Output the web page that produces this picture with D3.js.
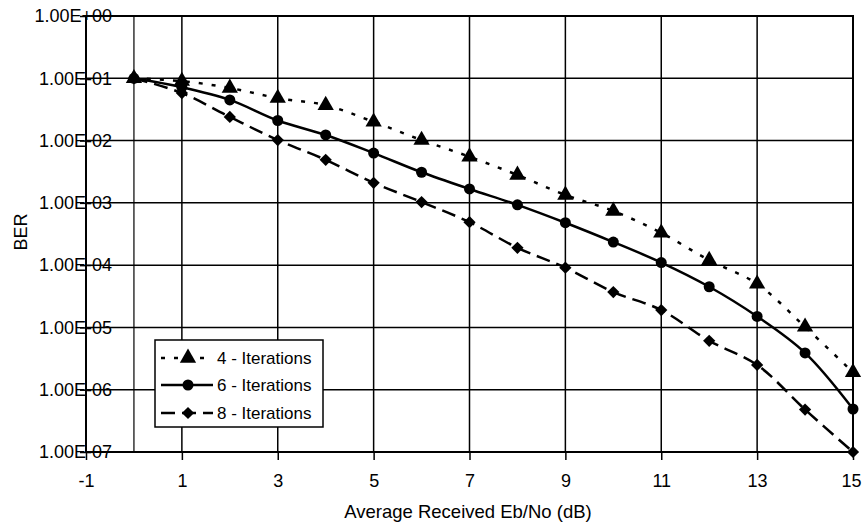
<!DOCTYPE html>
<html>
<head>
<meta charset="utf-8">
<script src="https://cdn.jsdelivr.net/npm/d3@7"></script>
<style>
  body { margin: 0; background: #fff; }
  svg { font-family: "Liberation Sans", Arial, sans-serif; }
</style>
</head>
<body>
<svg id="chart" width="862" height="526"></svg>
<script>
// x values (dB)
var ebno = [0, 1, 2, 3, 4, 5, 6, 7, 8, 9, 10, 11, 12, 13, 14, 15];

// BER per iteration count
var ber4 = [0.1, 0.09, 0.07, 0.048, 0.037, 0.02, 0.0102, 0.0055, 0.0028, 0.00134,
            7.4e-4, 3.3e-4, 1.2e-4, 5e-5, 1.02e-5, 1.9e-6];
var ber6 = [0.1, 0.072, 0.045, 0.021, 0.0123, 0.0063, 0.0031, 0.00167, 9.3e-4, 4.8e-4,
            2.35e-4, 1.1e-4, 4.5e-5, 1.5e-5, 3.9e-6, 4.9e-7];
var ber8 = [0.1, 0.058, 0.024, 0.0102, 0.0049, 0.0021, 0.00103, 4.9e-4, 1.9e-4, 9.1e-5,
            3.7e-5, 1.9e-5, 6.1e-6, 2.5e-6, 4.8e-7, 1e-7];

var seriesNames = ['4 - Iterations', '6 - Iterations', '8 - Iterations'];

var xTicks = [-1, 1, 3, 5, 7, 9, 11, 13, 15];
var xGrid = [0, 1, 3, 5, 7, 9, 11, 13];
var yTicks = [1, 1e-1, 1e-2, 1e-3, 1e-4, 1e-5, 1e-6, 1e-7];
var yTickLabels = ['1.00E+00', '1.00E-01', '1.00E-02', '1.00E-03',
                   '1.00E-04', '1.00E-05', '1.00E-06', '1.00E-07'];

var svg = d3.select('#chart');
var plotLeft = 86, plotRight = 853, plotTop = 16, plotBottom = 452;

var xScale = d3.scaleLinear().domain([-1, 15]).range([plotLeft, plotRight]);
var yScale = d3.scaleLog().domain([1e-7, 1]).range([plotBottom, plotTop]);

// gridlines
svg.append('g')
  .selectAll('line')
  .data(yTicks)
  .enter()
  .append('line')
  .attr('x1', plotLeft).attr('x2', plotRight)
  .attr('y1', function(d){ return yScale(d); })
  .attr('y2', function(d){ return yScale(d); })
  .attr('stroke', '#000')
  .attr('stroke-width', 1.5);

svg.append('g')
  .selectAll('line')
  .data(xGrid)
  .enter()
  .append('line')
  .attr('x1', function(d){ return xScale(d); })
  .attr('x2', function(d){ return xScale(d); })
  .attr('y1', plotTop).attr('y2', plotBottom)
  .attr('stroke', '#000')
  .attr('stroke-width', function(d){ return d === 0 ? 1.2 : 1.5; });

// frame
svg.append('rect')
  .attr('x', plotLeft).attr('y', plotTop)
  .attr('width', plotRight - plotLeft).attr('height', plotBottom - plotTop)
  .attr('fill', 'none')
  .attr('stroke', '#000')
  .attr('stroke-width', 2);

// x axis
var xAxis = d3.axisBottom(xScale)
  .tickValues(xTicks)
  .tickSize(8)
  .tickPadding(14)
  .tickFormat(function(d){ return d; });

var gx = svg.append('g')
  .attr('transform', 'translate(0,' + plotBottom + ')')
  .call(xAxis);
gx.select('.domain').remove();
gx.selectAll('line').attr('stroke', '#000').attr('stroke-width', 1.5);
gx.selectAll('text')
  .attr('font-size', 18)
  .attr('font-family', '"Liberation Sans", Arial, sans-serif')
  .attr('fill', '#000')
  .attr('dx', function(d){ return d === 15 ? -2 : 0; });

// y axis (labels overlap the axis line, as in the scan)
var yAxis = d3.axisLeft(yScale)
  .tickValues(yTicks)
  .tickSize(6)
  .tickPadding(-32)
  .tickFormat(function(d, i){ return yTickLabels[i]; });

var gy = svg.append('g')
  .attr('transform', 'translate(' + plotLeft + ',0)')
  .call(yAxis);
gy.select('.domain').remove();
gy.selectAll('line').attr('stroke', '#000').attr('stroke-width', 1.5);
gy.selectAll('text')
  .attr('font-size', 18)
  .attr('font-family', '"Liberation Sans", Arial, sans-serif')
  .attr('fill', '#000');

// axis titles
svg.append('text')
  .attr('x', 468).attr('y', 518)
  .attr('text-anchor', 'middle')
  .attr('font-size', 18.5)
  .text('Average Received Eb/No (dB)');

svg.append('text')
  .attr('transform', 'translate(27,232) rotate(-90)')
  .attr('text-anchor', 'middle')
  .attr('font-size', 18)
  .text('BER');

// series
var series = [
  { name: seriesNames[0], values: ber4, dash: '4,9', marker: d3.symbolTriangle, size: 115, rot: 0 },
  { name: seriesNames[1], values: ber6, dash: null, marker: d3.symbolCircle, size: 95, rot: 0 },
  { name: seriesNames[2], values: ber8, dash: '14,7', marker: d3.symbolSquare, size: 75, rot: 45 }
];

var line = d3.line()
  .x(function(d){ return xScale(d[0]); })
  .y(function(d){ return yScale(d[1]); })
  .curve(d3.curveCatmullRom);

series.forEach(function(s){
  var pts = ebno.map(function(x, i){ return [x, s.values[i]]; });

  svg.append('path')
    .datum(pts)
    .attr('d', line)
    .attr('fill', 'none')
    .attr('stroke', '#000')
    .attr('stroke-width', 2.5)
    .attr('stroke-dasharray', s.dash);

  svg.append('g')
    .selectAll('path')
    .data(pts)
    .enter()
    .append('path')
    .attr('d', d3.symbol().type(s.marker).size(s.size))
    .attr('transform', function(d){
      return 'translate(' + xScale(d[0]) + ',' + yScale(d[1]) + ') rotate(' + s.rot + ')';
    })
    .attr('fill', '#000');
});

// legend
var legend = svg.append('g');
legend.append('rect')
  .attr('x', 155).attr('y', 340)
  .attr('width', 168).attr('height', 87)
  .attr('fill', '#fff')
  .attr('stroke', '#000')
  .attr('stroke-width', 1.5);

var rowY = [358, 385, 413];
series.forEach(function(s, i){
  legend.append('line')
    .attr('x1', 161).attr('x2', 213)
    .attr('y1', rowY[i]).attr('y2', rowY[i])
    .attr('stroke', '#000')
    .attr('stroke-width', 2.5)
    .attr('stroke-dasharray', s.dash);
  legend.append('path')
    .attr('d', d3.symbol().type(s.marker).size(s.size))
    .attr('transform', 'translate(188,' + rowY[i] + ') rotate(' + s.rot + ')')
    .attr('fill', '#000');
  legend.append('text')
    .attr('x', 217).attr('y', rowY[i] + 6)
    .attr('font-size', 17)
    .text(s.name);
});
</script>
</body>
</html>
